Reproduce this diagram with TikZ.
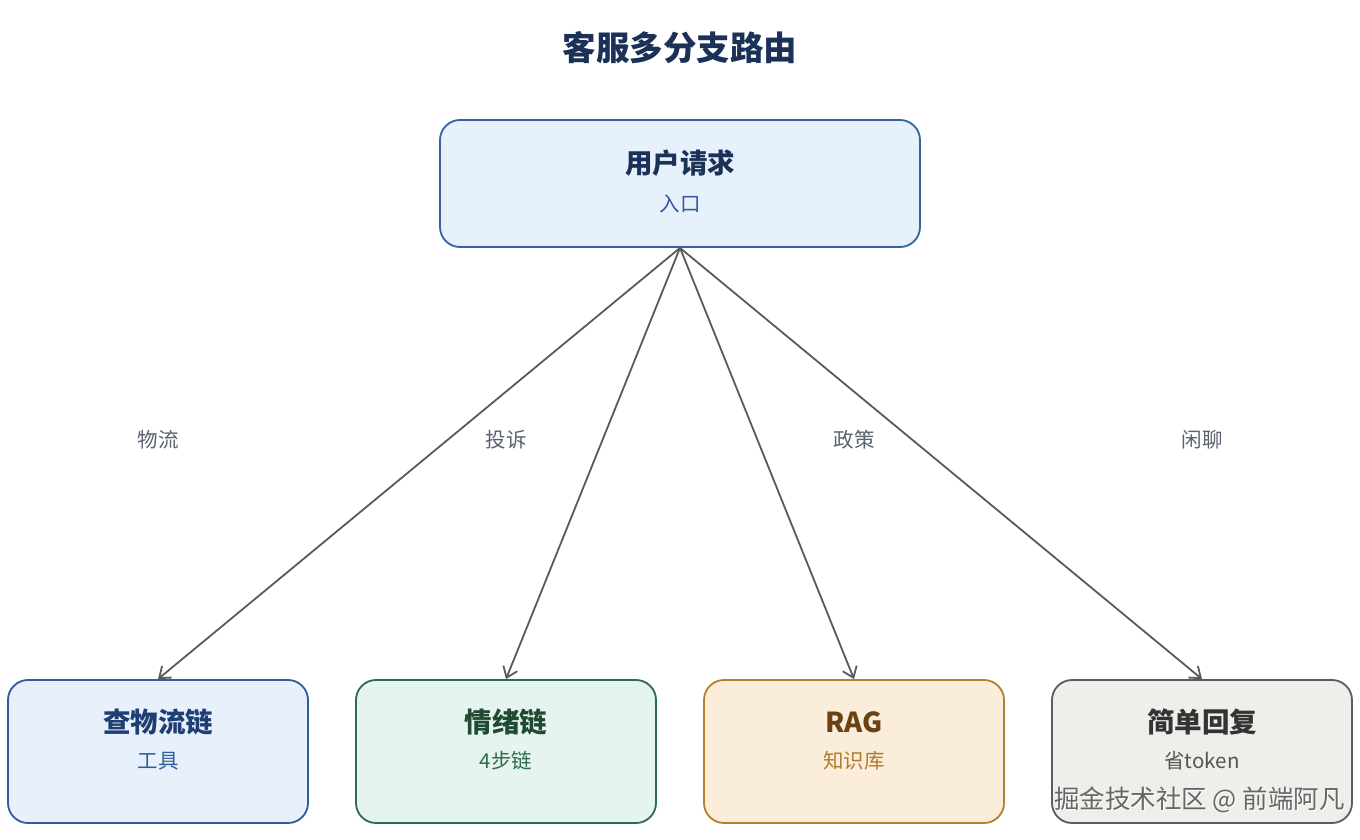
\documentclass[tikz,border=0pt]{standalone}
\usepackage{fontspec}
\setmainfont{Noto Sans CJK SC}
\usetikzlibrary{arrows.meta}
\definecolor{titlec}{HTML}{1B3157}
\definecolor{topfill}{HTML}{E7F1FB}
\definecolor{topdraw}{HTML}{3563A0}
\definecolor{topsub}{HTML}{34599A}
\definecolor{bfill}{HTML}{E8F1FB}
\definecolor{bdraw}{HTML}{2F5C9A}
\definecolor{btitle}{HTML}{1F3E74}
\definecolor{gfill}{HTML}{E5F4EE}
\definecolor{gdraw}{HTML}{2F6B4B}
\definecolor{gtitle}{HTML}{214A33}
\definecolor{gsub}{HTML}{2F6B4B}
\definecolor{ofill}{HTML}{FAEEDB}
\definecolor{odraw}{HTML}{B3802F}
\definecolor{otitle}{HTML}{6A4216}
\definecolor{osub}{HTML}{B07B2C}
\definecolor{nfill}{HTML}{EFEEEA}
\definecolor{ndraw}{HTML}{5C5C5C}
\definecolor{ntitle}{HTML}{333333}
\definecolor{nsub}{HTML}{555555}
\definecolor{edgec}{HTML}{5A5A5A}
\definecolor{labc}{HTML}{5A6270}
\tikzset{
  boxstyle/.style={rounded corners=20pt, line width=1.8pt, minimum width=300pt, minimum height=143pt, inner sep=0pt},
  headtext/.style={font=\fontsize{27.5}{31}\selectfont\bfseries, inner sep=0pt},
  subtext/.style={font=\fontsize{20.5}{24}\selectfont, inner sep=0pt},
  edgelabel/.style={font=\fontsize{20.5}{24}\selectfont, text=labc, inner sep=0pt},
  conn/.style={draw=edgec, line width=1.8pt, -{Straight Barb[length=10pt,width=15pt,line width=1.8pt]}}
}
\begin{document}
\begin{tikzpicture}[x=1pt,y=-1pt]
\useasboundingbox[fill=white] (0,0) rectangle (1360,840);
\node[font=\fontsize{33.5}{38}\selectfont\bfseries, text=titlec, inner sep=0pt] (title) at (680,48) {客服多分支路由};
% top box
\node[boxstyle, fill=topfill, draw=topdraw, minimum width=480pt, minimum height=127pt] (top) at (680,183.5) {};
\node[headtext, text=titlec] (toph) at (680,163) {用户请求};
\node[subtext, text=topsub] (tops) at (680,204) {入口};
% bottom boxes
\node[boxstyle, fill=bfill, draw=bdraw] (b1) at (158,751.5) {};
\node[headtext, text=btitle] (b1h) at (158,722) {查物流链};
\node[subtext, text=bdraw] (b1s) at (158,761) {工具};
\node[boxstyle, fill=gfill, draw=gdraw] (b2) at (506,751.5) {};
\node[headtext, text=gtitle] (b2h) at (506,722) {情绪链};
\node[subtext, text=gsub] (b2s) at (506,761) {4步链};
\node[boxstyle, fill=ofill, draw=odraw] (b3) at (854,751.5) {};
\node[headtext, text=otitle] (b3h) at (854,722) {RAG};
\node[subtext, text=osub] (b3s) at (854,761) {知识库};
\node[boxstyle, fill=nfill, draw=ndraw] (b4) at (1202,751.5) {};
\node[headtext, text=ntitle] (b4h) at (1202,722) {简单回复};
\node[subtext, text=nsub] (b4s) at (1202,761) {省token};
% connectors
\draw[conn] (top.south) -- (b1.north);
\draw[conn] (top.south) -- (b2.north);
\draw[conn] (top.south) -- (b3.north);
\draw[conn] (top.south) -- (b4.north);
% labels
\node[edgelabel] (l1) at (158,440) {物流};
\node[edgelabel] (l2) at (506,440) {投诉};
\node[edgelabel] (l3) at (854,440) {政策};
\node[edgelabel] (l4) at (1202,440) {闲聊};
% watermark
\node[font=\fontsize{25.5}{29}\selectfont, text=white, inner sep=0pt, anchor=east] (wmh) at (1345.8,800.8) {掘金技术社区 @ 前端阿凡};
\node[font=\fontsize{25.5}{29}\selectfont, text=black!60, inner sep=0pt, anchor=east] (wm) at (1345,800) {掘金技术社区 @ 前端阿凡};
\end{tikzpicture}
\end{document}
